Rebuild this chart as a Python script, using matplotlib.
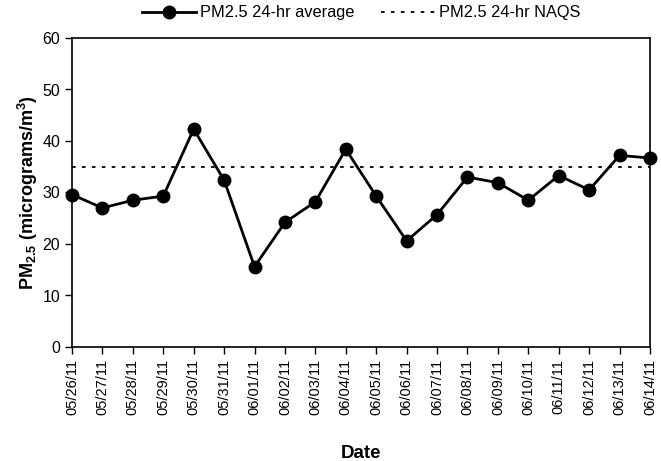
import matplotlib
matplotlib.use("Agg")
import matplotlib.pyplot as plt

dates = ["05/26/11", "05/27/11", "05/28/11", "05/29/11", "05/30/11", "05/31/11",
         "06/01/11", "06/02/11", "06/03/11", "06/04/11", "06/05/11", "06/06/11",
         "06/07/11", "06/08/11", "06/09/11", "06/10/11", "06/11/11", "06/12/11",
         "06/13/11", "06/14/11"]
pm25 = [29.6, 27.0, 28.5, 29.3, 42.3, 32.4, 15.6, 24.2, 28.2, 38.4, 29.3, 20.6,
        25.7, 33.0, 31.9, 28.5, 33.3, 30.5, 37.2, 36.7]
naqs = 35

plt.rcParams['font.family'] = ['Liberation Sans', 'DejaVu Sans']
plt.rcParams['mathtext.fontset'] = 'custom'
plt.rcParams['mathtext.rm'] = 'Liberation Sans:bold'
plt.rcParams['mathtext.default'] = 'rm'

fig = plt.figure(figsize=(6.61, 4.61), dpi=100)
ax = fig.add_axes([72/661, 1-347/461, (650-72)/661, (347-38)/461])

x = list(range(len(dates)))
ax.plot(x, pm25, color='black', lw=2.0, marker='o', markersize=9,
        label='PM2.5 24-hr average', clip_on=False, zorder=3)
ax.plot([x[0], x[-1]], [naqs, naqs], color='black', lw=1.3,
        linestyle=(0, (2, 3.5)), label='PM2.5 24-hr NAQS')

ax.set_xlim(0, len(dates) - 1)
ax.set_ylim(0, 60)
ax.set_yticks(range(0, 61, 10))
ax.set_xticks(x)
ax.set_xticklabels(dates, rotation=90, fontsize=10.5)
ax.tick_params(axis='y', labelsize=11.5, direction='out', length=5, width=1)
ax.tick_params(axis='x', direction='out', length=5, width=1)
for s in ax.spines.values():
    s.set_linewidth(1.2)

ax.set_xlabel('Date', fontsize=13.5, fontweight='bold', labelpad=22)
ax.set_ylabel(r'PM$_{2.5}$ (micrograms/m$^{3}$)', fontsize=13, fontweight='bold', labelpad=2)

fig.legend(loc='center', bbox_to_anchor=(361/661, 1 - 13/461), ncol=2, frameon=False,
           fontsize=11.8, handlelength=3.3, columnspacing=1.6, handletextpad=0.25)

fig.savefig('out.png', dpi=100)
